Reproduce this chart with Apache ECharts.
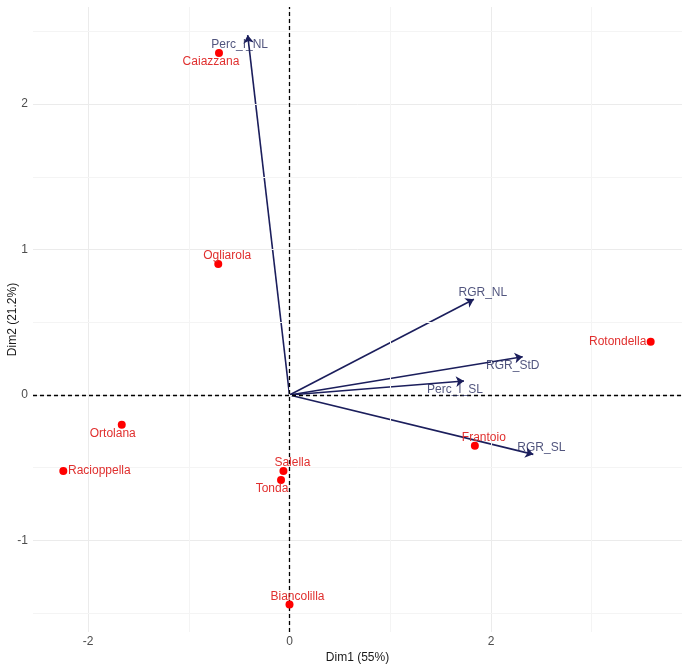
<!DOCTYPE html>
<html><head><meta charset="utf-8">
<script src="https://cdn.jsdelivr.net/npm/echarts@6/dist/echarts.min.js"></script>
<style>html,body{margin:0;padding:0;background:#fff}#c{width:685px;height:668px}</style>
</head><body><div id="c"></div>
<script>
// Individuals (cultivars)
const indNames = ['Caiazzana','Ogliarola','Rotondella','Frantoio','Ortolana','Racioppella','Salella','Tonda','Biancolilla'];
const indX = [-0.70, -0.707, 3.585, 1.84, -1.665, -2.245, -0.06, -0.084, 0.0];
const indY = [2.35, 0.90, 0.366, -0.348, -0.204, -0.522, -0.522, -0.584, -1.44];
// Variables (arrows)
const varNames = ['Perc_I_NL','RGR_NL','RGR_StD','Perc_I_SL','RGR_SL'];
const varX = [-0.415, 1.83, 2.315, 1.732, 2.42];
const varY = [2.474, 0.658, 0.263, 0.096, -0.408];
// Ticks
const xTicks = [-2, 0, 2];
const yTicks = [-1, 0, 1, 2];
const xMinor = [-1, 1, 3];
const yMinor = [-1.5, -0.5, 0.5, 1.5, 2.5];

// label offsets (style)
const indOffsets = [[-8,9],[9,-8],[-33,0],[9,-8],[-9,9],[36,0],[9,-8],[-9,9],[8,-8]];
const varOffsets = [[-8,10],[9,-7],[-10,9],[-9,9],[8,-7]];

const chart = echarts.init(document.getElementById('c'), null, {renderer:'canvas'});
const font = '"Liberation Sans", Arial, sans-serif';

const gridLines = [];
xTicks.forEach(v => gridLines.push({xAxis: v, lineStyle:{color:'#EBEBEB', width:1, type:'solid'}}));
yTicks.forEach(v => gridLines.push({yAxis: v, lineStyle:{color:'#EBEBEB', width:1, type:'solid'}}));
xMinor.forEach(v => gridLines.push({xAxis: v, lineStyle:{color:'#F4F4F4', width:1, type:'solid'}}));
yMinor.forEach(v => gridLines.push({yAxis: v, lineStyle:{color:'#F4F4F4', width:1, type:'solid'}}));

const option = {
  backgroundColor: '#fff',
  animation: false,
  grid: {left: 33, right: 3, top: 7, bottom: 36, containLabel: false, outerBoundsMode: 'none'},
  xAxis: {
    type: 'value', min: -2.546, max: 3.896,
    name: 'Dim1 (55%)', nameLocation: 'middle', nameGap: 20, nameMoveOverlap: false,
    nameTextStyle: {color: '#1a1a1a', fontSize: 12, fontFamily: font},
    axisLine: {show: false},
    axisTick: {show: true, length: 3, lineStyle: {color: '#333'}, customValues: xTicks},
    axisLabel: {color: '#4D4D4D', fontSize: 12, fontFamily: font, margin: 4, customValues: xTicks},
    splitLine: {show: false}
  },
  yAxis: {
    type: 'value', min: -1.629, max: 2.667,
    name: 'Dim2 (21.2%)', nameLocation: 'middle', nameGap: 14, nameRotate: 90, nameMoveOverlap: false,
    nameTextStyle: {color: '#1a1a1a', fontSize: 12, fontFamily: font},
    axisLine: {show: false},
    axisTick: {show: true, length: 3, lineStyle: {color: '#333'}, customValues: yTicks},
    axisLabel: {color: '#4D4D4D', fontSize: 12, fontFamily: font, margin: 5, customValues: yTicks},
    splitLine: {show: false}
  },
  series: [
    {
      type: 'line', data: [], silent: true,
      markLine: {silent: true, symbol: 'none', label: {show: false}, data: gridLines}
    },
    {
      type: 'line', data: [], silent: true, z: 3,
      markLine: {silent: true, symbol: 'none', label: {show: false},
        lineStyle: {color: '#000', type: [4, 3], width: 1.3},
        data: [{xAxis: 0}, {yAxis: 0}]}
    },
    {
      type: 'lines', coordinateSystem: 'cartesian2d', z: 4,
      symbol: ['none', 'arrow'], symbolSize: [0, 8],
      lineStyle: {color: '#1B1E5C', width: 1.6, opacity: 1},
      data: varNames.map((n, i) => ({coords: [[0, 0], [varX[i], varY[i]]]}))
    },
    {
      type: 'scatter', z: 5, symbolSize: 0,
      data: varNames.map((n, i) => ({
        value: [varX[i], varY[i]], name: n,
        label: {offset: varOffsets[i]}
      })),
      label: {show: true, position: 'inside', formatter: p => p.name,
        color: '#262A5E', fontSize: 12, fontFamily: font, align: 'center', verticalAlign: 'middle'}
    },
    {
      type: 'scatter', z: 6, symbolSize: 8,
      itemStyle: {color: '#FF0000', opacity: 1},
      data: indNames.map((n, i) => ({
        value: [indX[i], indY[i]], name: n,
        label: {offset: indOffsets[i]}
      })),
      label: {show: true, position: 'inside', formatter: p => p.name,
        color: '#E0302F', fontSize: 12, fontFamily: font, align: 'center', verticalAlign: 'middle'}
    }
  ]
};
chart.setOption(option);
</script>
</body></html>
